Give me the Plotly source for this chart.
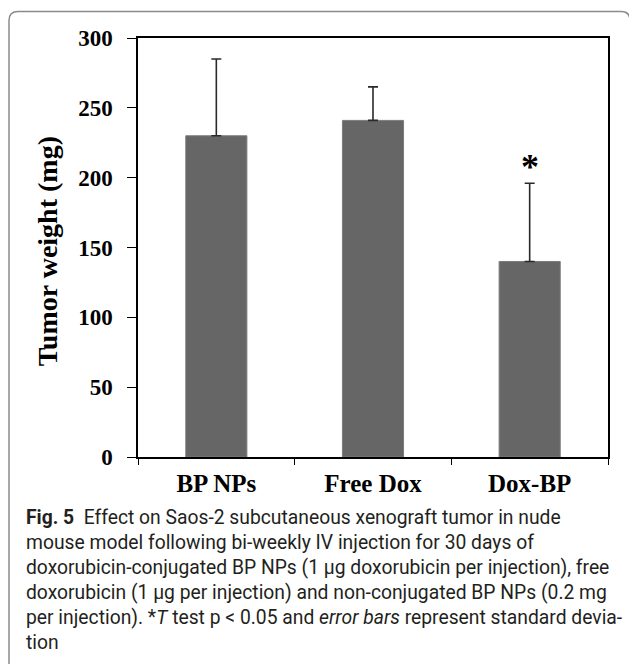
import plotly.graph_objects as go

# ---- data ----
categories = ["BP NPs", "Free Dox", "Dox-BP"]
tumor_weight = [230, 241, 140]
std_dev = [55, 24, 56]
y_ticks = [0, 50, 100, 150, 200, 250, 300]
y_title = "Tumor weight (mg)"
caption_lines = [
    "<b>Fig. 5</b>  Effect on Saos-2 subcutaneous xenograft tumor in nude",
    "mouse model following bi-weekly IV injection for 30 days of",
    "doxorubicin-conjugated BP NPs (1 µg doxorubicin per injection), free",
    "doxorubicin (1 µg per injection) and non-conjugated BP NPs (0.2 mg",
    "per injection). *<i>T</i> test p &lt; 0.05 and <i>error bars</i> represent standard devia-",
    "tion",
]

W, H = 629, 664
L, R, T, B = 138, 608, 37.5, 457  # plot area in pixels


def px_x(p):
    return (p - L) / (R - L)


def px_y(p):
    return (B - p) / (B - T)


serif = "Liberation Serif, Times New Roman, serif"

fig = go.Figure()
fig.add_trace(go.Bar(
    x=categories, y=tumor_weight, width=0.39,
    marker=dict(color="#666666", line=dict(color="#7c7c7c", width=1)),
    error_y=dict(type="data", array=std_dev, arrayminus=[0, 0, 0], symmetric=False,
                 color="#2a2a2a", thickness=1.6, width=5),
))

# significance star
fig.add_annotation(x=categories[2], y=tumor_weight[2] + std_dev[2], yshift=16,
                   text="<b>*</b>", showarrow=False,
                   font=dict(family=serif, size=36, color="black"),
                   xanchor="center", yanchor="middle")

# y-axis title
fig.add_annotation(xref="paper", yref="paper", x=px_x(47), y=px_y(251),
                   text="<b>" + y_title + "</b>", textangle=-90, showarrow=False,
                   font=dict(family=serif, size=28, color="black"),
                   xanchor="center", yanchor="middle")

# caption, one annotation per line
for i, line in enumerate(caption_lines):
    fig.add_annotation(xref="paper", yref="paper", x=px_x(24), y=px_y(518 + 25 * i),
                       text=line, showarrow=False, align="left",
                       xanchor="left", yanchor="middle",
                       font=dict(family="Roboto, sans-serif", size=19.3, color="#231f20"))

# rounded outer frame
x0, x1, y0, y1, r = 9, 630, 11, 700, 9
path = (f"M {px_x(x0)} {px_y(y1)} L {px_x(x0)} {px_y(y0 + r)} "
        f"Q {px_x(x0)} {px_y(y0)} {px_x(x0 + r)} {px_y(y0)} "
        f"L {px_x(x1 - r)} {px_y(y0)} Q {px_x(x1)} {px_y(y0)} {px_x(x1)} {px_y(y0 + r)} "
        f"L {px_x(x1)} {px_y(y1)}")
fig.add_shape(type="path", xref="paper", yref="paper", path=path,
              line=dict(color="#8a8a8a", width=1.5))

fig.update_layout(
    width=W, height=H,
    margin=dict(l=L, r=W - R, t=T, b=H - B),
    paper_bgcolor="white", plot_bgcolor="white",
    showlegend=False,
    xaxis=dict(type="category", tickson="boundaries", ticks="outside", ticklen=6,
               tickwidth=1.2, tickcolor="black",
               showline=True, linecolor="black", linewidth=1.5, mirror=True,
               showgrid=False, ticklabelstandoff=3,
               tickfont=dict(family=serif, size=25, color="black"),
               tickvals=categories, ticktext=["<b>" + c + "</b>" for c in categories]),
    yaxis=dict(range=[0, 300], tickvals=y_ticks, ticks="outside", ticklen=9,
               tickwidth=1.2, tickcolor="black",
               showline=True, linecolor="black", linewidth=1.5, mirror=True,
               showgrid=False, zeroline=False, ticklabelstandoff=10,
               tickfont=dict(family=serif, size=23, color="black"),
               ticktext=["<b>%d</b>" % v for v in y_ticks]),
)

fig.write_html("out.html")
